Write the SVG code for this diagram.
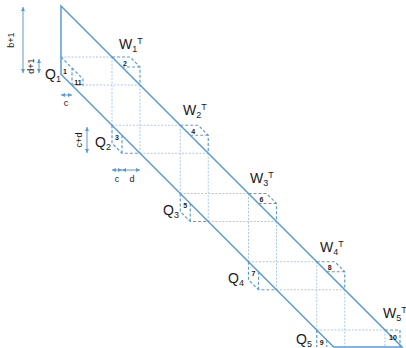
<svg xmlns="http://www.w3.org/2000/svg" width="406" height="348" viewBox="0 0 406 348">
<style>
.main{stroke:#5b9bd5;stroke-width:1.5;fill:none}
.box{stroke:#5b9bd5;stroke-width:1.2;stroke-dasharray:3 2;fill:none}
.grid{stroke:#a9c9ea;stroke-width:1;stroke-dasharray:2 1.5;fill:none}
.arr{stroke:#5b9bd5;stroke-width:1;fill:none;marker-start:url(#ah);marker-end:url(#ah)}
text{font-family:"Liberation Sans",Arial,sans-serif;fill:#1a1a1a}
.lbl{font-size:14px}
.s{font-size:9px}
.num{font-size:7px;font-weight:bold;text-anchor:middle}
.ann{font-size:9px;text-anchor:middle}
</style>
<defs>
<marker id="ah" viewBox="0 0 6 6" refX="6" refY="3" markerWidth="4" markerHeight="4" orient="auto-start-reverse"><path d="M0,0 L6,3 L0,6 z" fill="#5b9bd5"/></marker>
</defs>
<rect width="406" height="348" fill="#ffffff"/>
<g id="connectors">
<g id="grid">
<path class="grid" d="M61,57 H112 M71.75,85 H140 M112,57 V125.25 M140,85 V153.25"/>
<path class="grid" d="M112,125.25 H180.25 M140,153.25 H208.25 M180.25,125.25 V193.5 M208.25,153.25 V221.5"/>
<path class="grid" d="M180.25,193.5 H248.5 M208.25,221.5 H276.5 M248.5,193.5 V261.75 M276.5,221.5 V289.75"/>
<path class="grid" d="M248.5,261.75 H316.75 M276.5,289.75 H344.75 M316.75,261.75 V330 M344.75,289.75 V347"/>
<path class="grid" d="M316.75,330 H385 M385,330 V347"/>
</g>
<g id="band">
<path class="main" d="M61,74.25 V6 L402,347 H333.75 Z"/>
</g>
</g>
<g id="Q1">
<path class="box" d="M61,57 L72,68 V85 M72,68 L83,79 V85 H72"/>
<text class="num" x="65" y="73.5">1</text>
<text class="num" x="78" y="84.5">11</text>
<text class="lbl" x="45" y="79">Q<tspan class="s" dy="3">1</tspan></text>
</g>
<g id="W1">
<path class="box" d="M112,57 H130 L140,67 V85 M122,67 H140"/>
<text class="num" x="125" y="65.5">2</text>
<text class="lbl" x="119" y="49">W<tspan class="s" dy="3">1</tspan><tspan class="s" dy="-8">T</tspan></text>
</g>
<g id="Q2">
<path class="box" d="M112,125.25 V143.25 L122,153.25 H140 M122,135.25 V153.25"/>
<text class="num" x="117" y="140">3</text>
<text class="lbl" x="95" y="147">Q<tspan class="s" dy="3">2</tspan></text>
</g>
<g id="W2">
<path class="box" d="M180.25,125.25 H198.25 L208.25,135.25 V153.25 M190.25,135.25 H208.25"/>
<text class="num" x="193.25" y="133.75">4</text>
<text class="lbl" x="183" y="115">W<tspan class="s" dy="3">2</tspan><tspan class="s" dy="-8">T</tspan></text>
</g>
<g id="Q3">
<path class="box" d="M180.25,193.5 V211.5 L190.25,221.5 H208.25 M190.25,203.5 V221.5"/>
<text class="num" x="185.25" y="208">5</text>
<text class="lbl" x="163" y="215">Q<tspan class="s" dy="3">3</tspan></text>
</g>
<g id="W3">
<path class="box" d="M248.5,193.5 H266.5 L276.5,203.5 V221.5 M258.5,203.5 H276.5"/>
<text class="num" x="261.5" y="202">6</text>
<text class="lbl" x="250" y="183">W<tspan class="s" dy="3">3</tspan><tspan class="s" dy="-8">T</tspan></text>
</g>
<g id="Q4">
<path class="box" d="M248.5,261.75 V279.75 L258.5,289.75 H276.5 M258.5,271.75 V289.75"/>
<text class="num" x="253.5" y="276.25">7</text>
<text class="lbl" x="228" y="283">Q<tspan class="s" dy="3">4</tspan></text>
</g>
<g id="W4">
<path class="box" d="M316.75,261.75 H334.75 L344.75,271.75 V289.75 M326.75,271.75 H344.75"/>
<text class="num" x="329.75" y="270.25">8</text>
<text class="lbl" x="320" y="252">W<tspan class="s" dy="3">4</tspan><tspan class="s" dy="-8">T</tspan></text>
</g>
<g id="Q5">
<path class="box" d="M316.75,330 V347 M326.75,340 V347"/>
<text class="num" x="321.75" y="344.5">9</text>
<text class="lbl" x="296" y="344">Q<tspan class="s" dy="3">5</tspan></text>
</g>
<g id="W5">
<path class="box" d="M385,330 H400 V347"/>
<text class="num" x="393" y="339.5">10</text>
<text class="lbl" x="383" y="318">W<tspan class="s" dy="3">5</tspan><tspan class="s" dy="-8">T</tspan></text>
</g>
<g id="annotations">
<line class="arr" x1="23" y1="7" x2="23" y2="73"/>
<text class="ann" transform="translate(14,40) rotate(-90)">b+1</text>
<line class="arr" x1="39" y1="59" x2="39" y2="73"/>
<text class="ann" transform="translate(34,66) rotate(-90)">d+1</text>
<line class="arr" x1="61" y1="95" x2="72" y2="95"/>
<text class="ann" x="66" y="106">c</text>
<line class="arr" x1="87" y1="127" x2="87" y2="153"/>
<text class="ann" transform="translate(82,140) rotate(-90)">c+d</text>
<line class="arr" x1="112" y1="170" x2="122" y2="170"/>
<line class="arr" x1="122" y1="170" x2="140" y2="170"/>
<text class="ann" x="117" y="182">c</text>
<text class="ann" x="132" y="182">d</text>
</g>
</svg>
